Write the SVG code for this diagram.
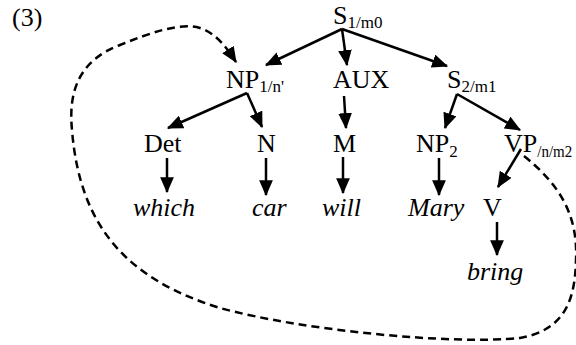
<svg xmlns="http://www.w3.org/2000/svg" width="576" height="345" viewBox="0 0 576 345">
<style>
text{font-family:"Liberation Serif","Tinos","DejaVu Serif","Noto Serif","Times New Roman",serif;font-size:26px;fill:#000}
.it{font-style:italic}
.sub{font-size:17px}
.e{stroke:#000;stroke-width:2.5;fill:none}
.d{stroke:#000;stroke-width:2.5;fill:none;stroke-dasharray:8 5}
</style>
<defs>
<marker id="ah" markerUnits="userSpaceOnUse" markerWidth="16" markerHeight="14" viewBox="0 0 14 12" refX="13" refY="6" orient="auto">
<path d="M0,0 L14,6 L0,12 z" fill="#000"/>
</marker>
</defs>
<rect width="576" height="345" fill="#fff"/>
<g font-family="Liberation Serif, DejaVu Serif, serif">
<text x="12" y="26">(3)</text>
<g id="S1"><text x="333" y="24">S<tspan class="sub" dy="4">1/m0</tspan></text></g>
<g id="NP1"><text x="226" y="88">NP<tspan class="sub" dy="4">1/n'</tspan></text></g>
<g id="AUX"><text x="333" y="88">AUX</text></g>
<g id="S2"><text x="447" y="88">S<tspan class="sub" dy="4">2/m1</tspan></text></g>
<g id="Det"><text x="144" y="152">Det</text></g>
<g id="N"><text x="257" y="152">N</text></g>
<g id="M"><text x="333" y="152">M</text></g>
<g id="NP2"><text x="416" y="152">NP<tspan class="sub" dy="5">2</tspan></text></g>
<g id="VP"><text x="504" y="152">VP<tspan class="sub" dy="5" textLength="35" lengthAdjust="spacingAndGlyphs">/n/m2</tspan></text></g>
<g id="which"><text class="it" x="133" y="216">which</text></g>
<g id="car"><text class="it" x="252" y="216">car</text></g>
<g id="will"><text class="it" x="322" y="216">will</text></g>
<g id="Mary"><text class="it" x="408" y="216">Mary</text></g>
<g id="V"><text x="483" y="216">V</text></g>
<g id="bring"><text class="it" x="467" y="280">bring</text></g>
</g>
<g id="connectors">
<line class="e" x1="342" y1="29" x2="266" y2="65" marker-end="url(#ah)"/>
<line class="e" x1="342" y1="29" x2="347" y2="65" marker-end="url(#ah)"/>
<line class="e" x1="342" y1="29" x2="447" y2="66" marker-end="url(#ah)"/>
<line class="e" x1="247" y1="93" x2="168" y2="128" marker-end="url(#ah)"/>
<line class="e" x1="247" y1="93" x2="262" y2="127" marker-end="url(#ah)"/>
<line class="e" x1="344" y1="96" x2="346" y2="128" marker-end="url(#ah)"/>
<line class="e" x1="457" y1="94" x2="445" y2="128" marker-end="url(#ah)"/>
<line class="e" x1="457" y1="94" x2="520" y2="130" marker-end="url(#ah)"/>
<line class="e" x1="167" y1="158" x2="167" y2="192" marker-end="url(#ah)"/>
<line class="e" x1="266" y1="158" x2="266" y2="195" marker-end="url(#ah)"/>
<line class="e" x1="343" y1="157" x2="343" y2="193" marker-end="url(#ah)"/>
<line class="e" x1="439" y1="158" x2="439" y2="195" marker-end="url(#ah)"/>
<line class="e" x1="521" y1="149" x2="498" y2="187" marker-end="url(#ah)"/>
<line class="e" x1="497" y1="222" x2="497" y2="255" marker-end="url(#ah)"/>
<path class="d" d="M524,156 C560,185 578,215 576,260 C575,300 565,330 520,338 C450,345 300,330 220,308 C130,280 80,230 72,130 C68,90 80,60 120,45 C150,33 180,22 200,28 C215,33 225,45 236,62" marker-end="url(#ah)"/>
</g>
</svg>
